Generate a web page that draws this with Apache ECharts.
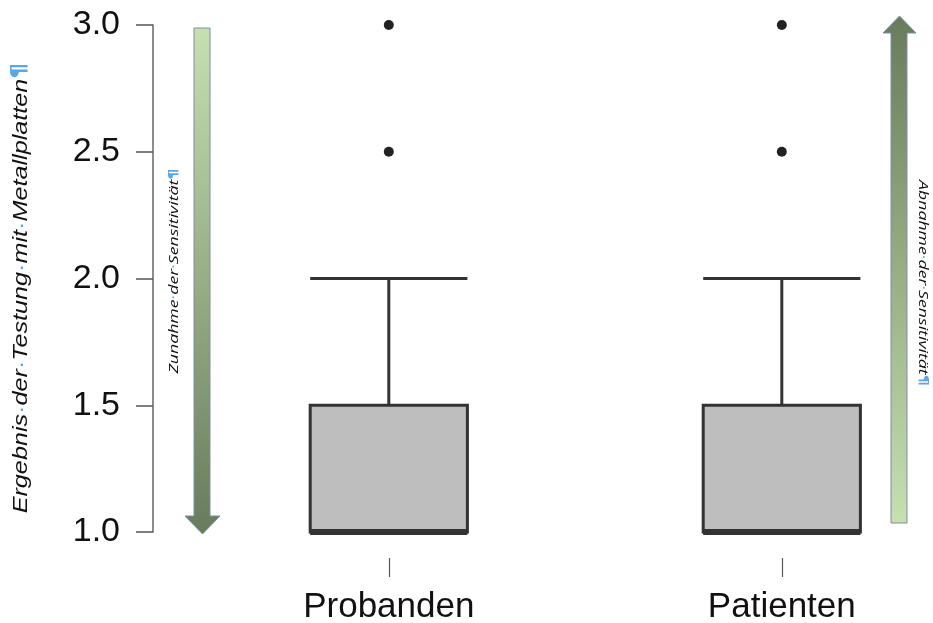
<!DOCTYPE html>
<html>
<head>
<meta charset="utf-8">
<script src="https://cdn.jsdelivr.net/npm/echarts@6/dist/echarts.min.js"></script>
<style>html,body{margin:0;padding:0;background:#fff}#c{width:933px;height:623px}</style>
</head>
<body>
<div id="c"></div>
<script>
const categories = ['Probanden', 'Patienten'];
const whiskerLow = [1.0, 1.0];
const q1 = [1.0, 1.0];
const median = [1.0, 1.0];
const q3 = [1.5, 1.5];
const whiskerHigh = [2.0, 2.0];
const outliers = [[2.5, 3.0], [2.5, 3.0]];
const yMin = 1.0, yMax = 3.0, yStep = 0.5;

const boxData = categories.map((c, i) => [i + 1, whiskerLow[i], q1[i], median[i], q3[i], whiskerHigh[i]]);
const outData = [];
outliers.forEach((arr, i) => arr.forEach(v => outData.push([i + 1, v])));

const chart = echarts.init(document.getElementById('c'), null, {renderer: 'canvas'});
const dark = '#333333';

function richStyle(font, size, italic) {
  return {
    t: {fontFamily: font, fontStyle: italic ? 'italic' : 'normal', fontSize: size, fill: '#111'},
    d: {fontFamily: font, fontSize: size, fill: '#5aa7e6'},
    p: {fontFamily: 'DejaVu Sans, sans-serif', fontWeight: 'bold', fontSize: size, fill: '#5aa7e6'}
  };
}

chart.setOption({
  animation: false,
  backgroundColor: '#ffffff',
  grid: {left: 153, right: 33.3, top: 25, bottom: 91, containLabel: false, outerBoundsMode: 'none'},
  xAxis: {
    type: 'value', min: 0.4, max: 2.3,
    offset: 26,
    axisLine: {show: false},
    splitLine: {show: false},
    axisTick: {show: true, customValues: [1, 2], length: 19, lineStyle: {color: '#555', width: 1.2}},
    axisLabel: {
      customValues: [1, 2], margin: 32,
      formatter: v => categories[Math.round(v) - 1] || '',
      fontFamily: 'Liberation Sans, Arial, sans-serif', fontSize: 35, color: '#111'
    }
  },
  yAxis: {
    type: 'value', min: yMin, max: yMax, interval: yStep,
    axisLine: {show: true, lineStyle: {color: '#666', width: 1.5}},
    axisTick: {show: true, length: 17, lineStyle: {color: '#555', width: 1.5}},
    splitLine: {show: false},
    axisLabel: {
      margin: 33, formatter: v => v.toFixed(1),
      fontFamily: 'Liberation Sans, Arial, sans-serif', fontSize: 34, color: '#111'
    }
  },
  series: [
    {
      type: 'custom',
      data: boxData,
      renderItem: function (params, api) {
        const x = api.value(0);
        const lo = api.coord([x, api.value(1)]);
        const b1 = api.coord([x, api.value(2)]);
        const md = api.coord([x, api.value(3)]);
        const b3 = api.coord([x, api.value(4)]);
        const hi = api.coord([x, api.value(5)]);
        const hw = api.size([0.4, 0])[0] / 2;
        const cx = lo[0];
        return {
          type: 'group',
          children: [
            {type: 'line', shape: {x1: cx, y1: b3[1], x2: cx, y2: hi[1]}, style: {stroke: dark, lineWidth: 3}},
            {type: 'line', shape: {x1: cx, y1: b1[1], x2: cx, y2: lo[1]}, style: {stroke: dark, lineWidth: 3}},
            {type: 'line', shape: {x1: cx - hw, y1: hi[1], x2: cx + hw, y2: hi[1]}, style: {stroke: dark, lineWidth: 3}},
            {type: 'line', shape: {x1: cx - hw, y1: lo[1], x2: cx + hw, y2: lo[1]}, style: {stroke: dark, lineWidth: 3}},
            {type: 'rect', shape: {x: cx - hw, y: b3[1], width: 2 * hw, height: b1[1] - b3[1]},
              style: {fill: '#bebebe', stroke: dark, lineWidth: 3}},
            {type: 'line', shape: {x1: cx - hw, y1: md[1], x2: cx + hw, y2: md[1]}, style: {stroke: dark, lineWidth: 6}}
          ]
        };
      }
    },
    {
      type: 'scatter',
      data: outData,
      symbol: 'circle', symbolSize: 10,
      itemStyle: {color: '#222', opacity: 1}
    }
  ],
  graphic: [
    {
      type: 'polygon',
      shape: {points: [[194, 28], [210, 28], [210, 516], [220, 516], [202.5, 534], [185, 516], [194, 516]]},
      style: {
        fill: new echarts.graphic.LinearGradient(0, 0, 0, 1, [{offset: 0, color: '#c6e0b0'}, {offset: 1, color: '#687b5b'}]),
        stroke: '#7d8ea8', lineWidth: 1
      }
    },
    {
      type: 'polygon',
      shape: {points: [[899.5, 16], [916, 33], [907, 33], [907, 523], [891, 523], [891, 33], [883, 33]]},
      style: {
        fill: new echarts.graphic.LinearGradient(0, 0, 0, 1, [{offset: 0, color: '#687b5b'}, {offset: 1, color: '#c6e0b0'}]),
        stroke: '#7d8ea8', lineWidth: 1
      }
    },
    {
      type: 'text', x: 174, y: 271, rotation: Math.PI / 2, scaleX: 1.36,
      style: {
        text: '{t|Zunahme}{d|·}{t|der}{d|·}{t|Sensitivität}{p|¶}',
        align: 'center', verticalAlign: 'middle',
        rich: richStyle('Open Sans, sans-serif', 13, true)
      }
    },
    {
      type: 'text', x: 923, y: 283, rotation: -Math.PI / 2, scaleX: 1.36,
      style: {
        text: '{t|Abnahme}{d|·}{t|der}{d|·}{t|Sensitivität}{p|¶}',
        align: 'center', verticalAlign: 'middle',
        rich: richStyle('Open Sans, sans-serif', 13, true)
      }
    },
    {
      type: 'text', x: 21, y: 288, rotation: Math.PI / 2, scaleX: 1.2,
      style: {
        text: '{t|Ergebnis}{d|·}{t|der}{d|·}{t|Testung}{d|·}{t|mit}{d|·}{t|Metallplatten}{p|¶}',
        align: 'center', verticalAlign: 'middle',
        rich: richStyle('Liberation Sans, Arial, sans-serif', 21, true)
      }
    }
  ]
});
</script>
</body>
</html>
